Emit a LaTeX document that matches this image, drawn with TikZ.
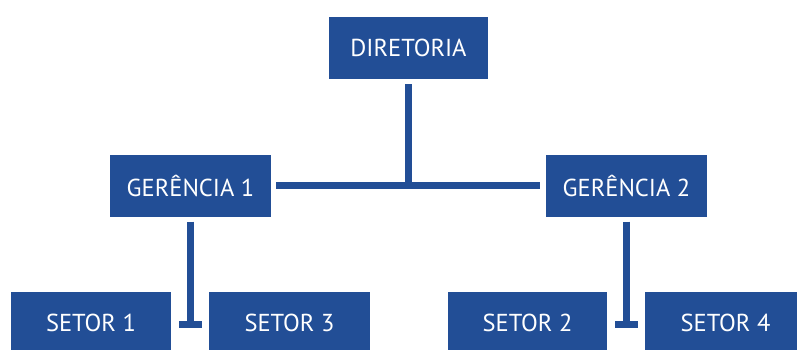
\documentclass[tikz,border=0pt]{standalone}
\usepackage{fontspec}
\setmainfont{PT Sans}
\definecolor{orgblue}{RGB}{34,78,150}
\tikzset{
  unitbox/.style={fill=orgblue, draw=none, text=white, inner sep=0pt,
    font=\fontsize{24.5bp}{27bp}\selectfont},
  wide/.style={unitbox, minimum width=161bp, minimum height=62bp},
  conn/.style={draw=orgblue, line width=6.5bp, line cap=butt},
  tbar/.style={draw=orgblue, line width=7bp, line cap=butt},
}
\begin{document}
\begin{tikzpicture}[x=1bp,y=-1bp]
  \useasboundingbox (0,0) rectangle (797,349);
  \clip (0,0) rectangle (797,349);

  % top level
  \node[wide, minimum width=159bp] (dir) at (408.5,48) {DIRETORIA};

  % middle level
  \node[wide] (g1) at (190.5,185.5) {GERÊNCIA 1};
  \node[wide] (g2) at (626.5,185.5) {GERÊNCIA 2};

  % bottom level
  \node[wide, minimum width=160bp] (s1) at (91,323) {SETOR 1};
  \node[wide] (s3) at (289.5,323) {SETOR 3};
  \node[wide, minimum width=159bp] (s2) at (527.5,323) {SETOR 2};
  \node[wide] (s4) at (725.5,323) {SETOR 4};

  % directorate to managers
  \draw[conn] ([yshift=-5bp]dir.south) -- (dir.south |- g1.east);
  \draw[conn] ([xshift=5bp]g1.east) -- ([xshift=-6bp]g2.west);

  % managers to sectors, ending in a short crossbar
  \coordinate (t1) at ([yshift=-1.5bp]g1.south |- s1.east);
  \coordinate (t2) at ([yshift=-1.5bp]g2.south |- s2.east);
  \draw[conn, line width=7bp] ([yshift=-5bp]g1.south) -- (t1);
  \draw[conn, line width=7bp] ([yshift=-5bp]g2.south) -- (t2);
  \draw[tbar] ([xshift=-11.5bp]t1) -- ([xshift=11.5bp]t1);
  \draw[tbar] ([xshift=-11.5bp]t2) -- ([xshift=11.5bp]t2);
\end{tikzpicture}
\end{document}
